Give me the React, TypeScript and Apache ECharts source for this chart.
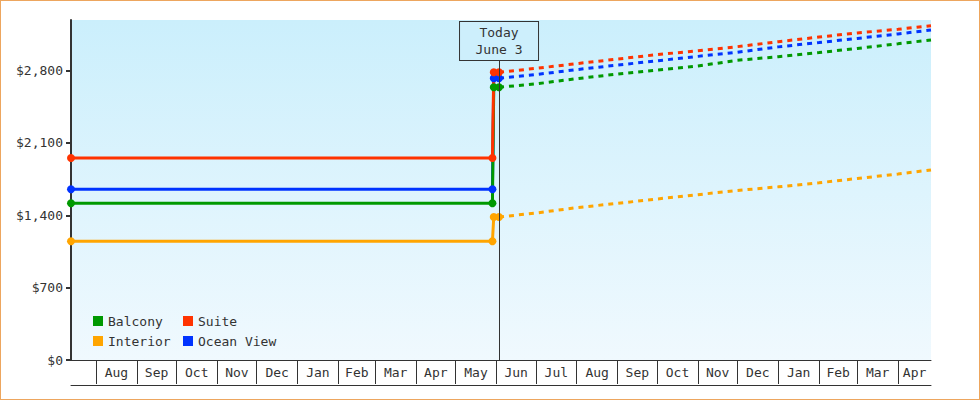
import React, { useEffect, useRef } from "react";
import * as echarts from "echarts";

const FONT = "'DejaVu Sans Mono', monospace";
const TEXT = "#333333";

// ---- data ----
const SERIES_NAMES = ["Balcony", "Suite", "Interior", "Ocean View"];
const SERIES_COLORS = ["#009900", "#ff3300", "#ffa500", "#0033ff"];
// drawing order of the solid history lines (last on top)
const HISTORY_DRAW_ORDER = [3, 0, 2, 1];

const historyDates = ["2022-07-13", "2023-05-29", "2023-05-30", "2023-06-03"];
const balconyHistory = [1516, 1516, 2639, 2639];
const suiteHistory = [1955, 1955, 2784, 2784];
const interiorHistory = [1149, 1149, 1384, 1384];
const oceanViewHistory = [1652, 1652, 2726, 2726];

const projectionDates = [
  "2023-06-03", "2023-07-01", "2023-08-01", "2023-09-01", "2023-10-01", "2023-11-01",
  "2023-12-01", "2024-01-01", "2024-02-01", "2024-03-01", "2024-04-01", "2024-04-26",
];
const balconyProjection = [2639, 2672, 2722, 2767, 2805, 2845, 2900, 2935, 2975, 3015, 3060, 3097];
const suiteProjection = [2784, 2822, 2868, 2912, 2955, 2992, 3032, 3080, 3125, 3165, 3200, 3235];
const interiorProjection = [1384, 1422, 1474, 1516, 1558, 1600, 1640, 1676, 1715, 1756, 1800, 1839];
const oceanViewProjection = [2726, 2762, 2810, 2854, 2895, 2938, 2978, 3030, 3072, 3112, 3155, 3193];

const monthStarts = [
  "2022-08-01", "2022-09-01", "2022-10-01", "2022-11-01", "2022-12-01", "2023-01-01",
  "2023-02-01", "2023-03-01", "2023-04-01", "2023-05-01", "2023-06-01", "2023-07-01",
  "2023-08-01", "2023-09-01", "2023-10-01", "2023-11-01", "2023-12-01", "2024-01-01",
  "2024-02-01", "2024-03-01", "2024-04-01",
];
const MONTH_NAMES = ["Jan", "Feb", "Mar", "Apr", "May", "Jun", "Jul", "Aug", "Sep", "Oct", "Nov", "Dec"];
const yTickValues = [0, 700, 1400, 2100, 2800];

const X_MIN = "2022-07-13";
const X_MAX = "2024-04-26";
const Y_MAX = 3290;
const TODAY = "2023-06-03";
const TODAY_LABEL = "Today\nJune 3";
const TODAY_LINE_TOP = 2903;

const ts = (s: string) => {
  const [y, m, d] = s.split("-").map(Number);
  return new Date(y, m - 1, d).getTime();
};

export default function App() {
  const ref = useRef<HTMLDivElement>(null);

  useEffect(() => {
    if (!ref.current) return;
    const chart = echarts.init(ref.current, null, { renderer: "svg" });

    const xMin = ts(X_MIN);
    const xMax = ts(X_MAX);
    const tickTs = monthStarts.map(ts);
    const labelCenters = tickTs.map((t, i) => (t + (i + 1 < tickTs.length ? tickTs[i + 1] : xMax)) / 2);

    const histories = [balconyHistory, suiteHistory, interiorHistory, oceanViewHistory];
    const projections = [balconyProjection, suiteProjection, interiorProjection, oceanViewProjection];
    const hTs = historyDates.map(ts);
    const pTs = projectionDates.map(ts);

    const historySeries = HISTORY_DRAW_ORDER.map((i) => ({
      type: "line",
      name: SERIES_NAMES[i],
      data: histories[i].map((v, j) => [hTs[j], v]),
      symbol: "circle",
      symbolSize: 8,
      showSymbol: true,
      showAllSymbol: true,
      color: SERIES_COLORS[i],
      lineStyle: { width: 3, color: SERIES_COLORS[i] },
      itemStyle: { color: SERIES_COLORS[i], borderWidth: 0 },
      emphasis: { disabled: true },
      z: 3,
    }));

    const projectionSeries: any[] = SERIES_NAMES.map((name, i) => ({
      type: "line",
      name,
      data: projections[i].map((v, j) => [pTs[j], v]),
      symbol: "none",
      showSymbol: false,
      color: SERIES_COLORS[i],
      lineStyle: { width: 3, color: SERIES_COLORS[i], type: [5, 5] },
      itemStyle: { color: SERIES_COLORS[i] },
      emphasis: { disabled: true },
      z: 2,
    }));

    projectionSeries[0].markLine = {
      silent: true,
      symbol: ["none", "none"],
      animation: false,
      lineStyle: { color: TEXT, width: 1, type: "solid" },
      emphasis: { disabled: true },
      label: {
        show: true,
        position: "end",
        distance: 0,
        formatter: TODAY_LABEL,
        color: TEXT,
        fontFamily: FONT,
        fontSize: 13,
        lineHeight: 17,
        backgroundColor: "#cdeffc",
        borderColor: TEXT,
        borderWidth: 1,
        width: 78,
        height: 34,
        padding: [2, 0, 2, 0],
        align: "center",
      },
      data: [[{ coord: [ts(TODAY), 0] }, { coord: [ts(TODAY), TODAY_LINE_TOP] }]],
    };

    const legendCommon = {
      orient: "vertical",
      top: 314,
      padding: 0,
      itemWidth: 10,
      itemHeight: 10,
      itemGap: 6,
      icon: "rect",
      itemStyle: { borderWidth: 0 },
      textStyle: { color: TEXT, fontFamily: FONT, fontSize: 13, lineHeight: 14 },
    };

    chart.setOption({
      animation: false,
      textStyle: { fontFamily: FONT },
      grid: {
        left: 71,
        right: 49,
        top: 20,
        bottom: 40,
        show: true,
        borderWidth: 0,
        outerBoundsMode: "none",
        backgroundColor: new echarts.graphic.LinearGradient(0, 0, 0, 1, [
          { offset: 0, color: "#cbeffc" },
          { offset: 1, color: "#f0f9fe" },
        ]),
      },
      legend: [
        { ...legendCommon, left: 93, data: ["Balcony", "Interior"] },
        { ...legendCommon, left: 183, data: ["Suite", "Ocean View"] },
      ],
      xAxis: [
        {
          type: "value",
          min: xMin,
          max: xMax,
          position: "bottom",
          axisLine: { show: true, onZero: false, lineStyle: { color: TEXT, width: 1 } },
          axisTick: {
            show: true,
            customValues: tickTs,
            length: 24,
            inside: false,
            lineStyle: { color: TEXT, width: 1 },
          },
          axisLabel: {
            show: true,
            customValues: labelCenters,
            formatter: (v: number) => MONTH_NAMES[new Date(v).getMonth()],
            margin: 6,
            color: TEXT,
            fontFamily: FONT,
            fontSize: 13,
            showMinLabel: true,
            showMaxLabel: true,
          },
          splitLine: { show: false },
          minorTick: { show: false },
        },
        {
          type: "value",
          min: xMin,
          max: xMax,
          position: "bottom",
          offset: 25,
          axisLine: { show: true, onZero: false, lineStyle: { color: TEXT, width: 1 } },
          axisTick: { show: false },
          axisLabel: { show: false },
          splitLine: { show: false },
        },
      ],
      yAxis: {
        type: "value",
        min: 0,
        max: Y_MAX,
        axisLine: { show: true, lineStyle: { color: TEXT, width: 2 } },
        axisTick: {
          show: true,
          customValues: yTickValues,
          length: 5,
          lineStyle: { color: TEXT, width: 2 },
        },
        axisLabel: {
          customValues: yTickValues,
          formatter: (v: number) => "$" + v.toLocaleString("en-US"),
          margin: 8,
          color: TEXT,
          fontFamily: FONT,
          fontSize: 13,
        },
        splitLine: { show: false },
      },
      series: [...projectionSeries, ...historySeries],
    });

    return () => chart.dispose();
  }, []);

  return (
    <div style={{ position: "absolute", left: 0, top: 0, width: 980, height: 400 }}>
      <div ref={ref} style={{ width: 980, height: 400 }} />
      <div
        style={{
          position: "absolute",
          left: 0,
          top: 0,
          width: 980,
          height: 400,
          boxSizing: "border-box",
          border: "1px solid #eda65e",
          pointerEvents: "none",
        }}
      />
    </div>
  );
}
